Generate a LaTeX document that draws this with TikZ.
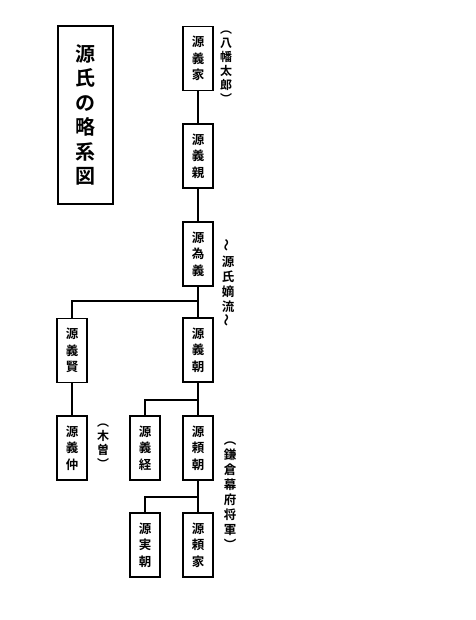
\documentclass[tikz,border=0pt]{standalone}
\usepackage{fontspec}
\setmainfont{Noto Sans CJK JP}[BoldFont={* Bold}]
\newcommand{\vtil}{\rotatebox{90}{〜}}
\begin{document}
\begin{tikzpicture}[x=1pt,y=-1pt,
  person/.style={draw, line width=1.8pt, minimum width=30pt, minimum height=64pt,
    inner sep=0pt, align=center, font=\bfseries\fontsize{12.5}{16.5}\selectfont},
  titlebox/.style={draw, line width=1.8pt, minimum width=55pt, minimum height=178pt,
    inner sep=0pt, align=center, font=\bfseries\fontsize{20}{24.5}\selectfont},
  note/.style={inner sep=0pt, align=center, font=\bfseries\fontsize{12}{14}\selectfont},
  link/.style={line width=1.6pt}]
\useasboundingbox (0,0) rectangle (475,620);
\node[titlebox] (title) at (85.5,115) {源\\氏\\の\\略\\系\\図};
\node[person] (yoshiie) at (198,58.5) {源\\義\\家};
\node[person] (yoshichika) at (198,156) {源\\義\\親};
\node[person] (tameyoshi) at (198,254) {源\\為\\義};
\node[person] (yoshitomo) at (198,350) {源\\義\\朝};
\node[person] (yoshikata) at (72,350.5) {源\\義\\賢};
\node[person] (yoshinaka) at (72,448) {源\\義\\仲};
\node[person] (yoshitsune) at (145,448) {源\\義\\経};
\node[person] (yoritomo) at (198,448) {源\\頼\\朝};
\node[person] (sanetomo) at (145,545) {源\\実\\朝};
\node[person] (yoriie) at (198,545) {源\\頼\\家};
\node[note] (n1) at (226,67) {︵\\八\\幡\\太\\郎\\︶};
\node[note, font=\bfseries\fontsize{12.5}{15}\selectfont] (n2) at (228,283) {\vtil\\源\\氏\\嫡\\流\\\vtil};
\node[note] (n3) at (103,446) {︵\\木\\曽\\︶};
\node[note, font=\bfseries\fontsize{12.5}{15}\selectfont] (n4) at (230,496) {︵\\鎌\\倉\\幕\\府\\将\\軍\\︶};
\coordinate (j1) at (198,301);
\coordinate (j2) at (198,400);
\coordinate (j3) at (198,497);
\draw[link] (yoshiie) -- (yoshichika);
\draw[link] (yoshichika) -- (tameyoshi);
\draw[link] (tameyoshi) -- (yoshitomo);
\draw[link] (j1) -| (yoshikata.north);
\draw[link] (yoshikata) -- (yoshinaka);
\draw[link] (yoshitomo) -- (yoritomo);
\draw[link] (j2) -| (yoshitsune.north);
\draw[link] (yoritomo) -- (yoriie);
\draw[link] (j3) -| (sanetomo.north);
\end{tikzpicture}
\end{document}
